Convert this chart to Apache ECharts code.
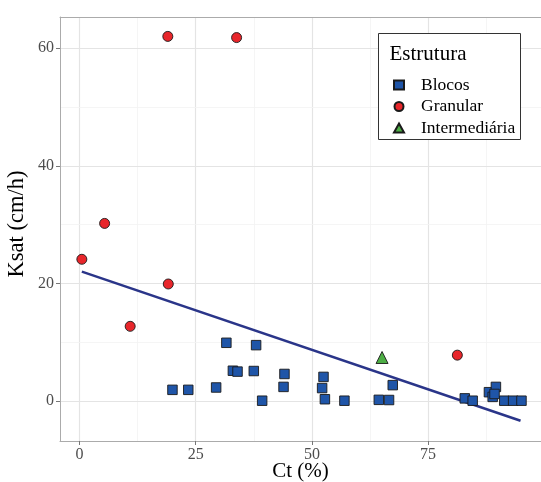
<!DOCTYPE html>
<html>
<head>
<meta charset="utf-8">
<script src="https://cdn.jsdelivr.net/npm/echarts@6/dist/echarts.min.js"></script>
<style>html,body{margin:0;padding:0;background:#fff}#c{width:541px;height:482px}</style>
</head>
<body>
<div id="c"></div>
<script>
const blocosX = [20.0, 23.4, 29.4, 31.6, 38.0, 33.0, 34.0, 37.5, 39.3, 44.1, 43.9, 52.5, 52.2, 52.8, 57.0, 64.4, 66.6, 67.4, 82.9, 84.6, 88.1, 89.6, 88.9, 89.3, 91.4, 93.3, 95.1];
const blocosY = [1.9, 1.9, 2.3, 9.9, 9.5, 5.15, 5.0, 5.1, 0.05, 4.6, 2.4, 4.1, 2.2, 0.3, 0.05, 0.2, 0.17, 2.7, 0.45, 0.05, 1.5, 2.4, 0.7, 1.2, 0.05, 0.05, 0.05];
const granularX = [19.0, 33.8, 0.5, 5.4, 19.1, 10.9, 81.3];
const granularY = [62.0, 61.8, 24.1, 30.2, 19.9, 12.7, 7.8];
const intermX = [65.1];
const intermY = [7.4];
const trendX = [0.5, 94.9];
const trendY = [22.0, -3.35];
const xTicks = [0, 25, 50, 75];
const yTicks = [0, 20, 40, 60];
const xMinor = [12.5, 37.5, 62.5, 87.5];
const yMinor = [10, 30, 50];
const seriesNames = ['Blocos', 'Granular', 'Intermediária'];
const legendTitle = 'Estrutura';
const xTitle = 'Ct (%)';
const yTitle = 'Ksat (cm/h)';

const FONT = 'Liberation Serif';
const zip = (a, b) => a.map((v, i) => [v, b[i]]);

const gridLines = [];
xTicks.forEach(v => gridLines.push({xAxis: v, lineStyle: {color: '#E4E4E4', width: 1.2, type: 'solid'}}));
xMinor.forEach(v => gridLines.push({xAxis: v, lineStyle: {color: '#F2F2F2', width: 0.8, type: 'solid'}}));
yTicks.forEach(v => gridLines.push({yAxis: v, lineStyle: {color: '#E4E4E4', width: 1.2, type: 'solid'}}));
yMinor.forEach(v => gridLines.push({yAxis: v, lineStyle: {color: '#F2F2F2', width: 0.8, type: 'solid'}}));

const chart = echarts.init(document.getElementById('c'), null, {renderer: 'canvas'});
chart.setOption({
  animation: false,
  backgroundColor: '#fff',
  grid: {left: 60, right: 0, top: 17, bottom: 41, containLabel: false, outerBoundsMode: 'none'},
  xAxis: [
    {
      type: 'value', min: -4.2, max: 99.3, position: 'bottom',
      splitLine: {show: false},
      axisLine: {show: true, onZero: false, lineStyle: {color: '#ABABAB', width: 1}},
      name: xTitle, nameLocation: 'middle', nameGap: 20, nameMoveOverlap: false,
      nameTextStyle: {fontFamily: FONT, fontSize: 21, color: '#000'},
      axisTick: {show: true, length: 4, customValues: xTicks, lineStyle: {color: '#777', width: 1}},
      axisLabel: {color: '#4D4D4D', fontFamily: FONT, fontSize: 16, margin: 6, customValues: xTicks}
    },
    {type: 'value', min: -4.2, max: 99.3, position: 'top', splitLine: {show: false},
     axisLine: {show: true, onZero: false, lineStyle: {color: '#ABABAB', width: 1}},
     axisTick: {show: false}, axisLabel: {show: false}}
  ],
  yAxis: {
    type: 'value', min: -6.8, max: 65.3,
    splitLine: {show: false},
    axisLine: {show: true, onZero: false, lineStyle: {color: '#ABABAB', width: 1}},
    name: yTitle, nameLocation: 'middle', nameGap: 31, nameRotate: 90, nameMoveOverlap: false,
    nameTextStyle: {fontFamily: FONT, fontSize: 22.5, color: '#000', padding: [0, 0, 0, 10]},
    axisTick: {show: true, length: 4, customValues: yTicks, lineStyle: {color: '#777', width: 1}},
    axisLabel: {color: '#4D4D4D', fontFamily: FONT, fontSize: 16, margin: 6, customValues: yTicks}
  },
  legend: {
    data: seriesNames,
    orient: 'vertical',
    left: 388, top: 71,
    itemWidth: 10, itemHeight: 9,
    itemGap: 3.5,
    z: 10,
    textStyle: {fontFamily: FONT, fontSize: 17.5, color: '#000', padding: [0, 0, 0, 12]}
  },
  graphic: [
    {type: 'rect', z: 8, shape: {x: 378.5, y: 33.5, width: 142, height: 106},
     style: {fill: '#fff', stroke: '#333', lineWidth: 1}},
    {type: 'text', z: 9, x: 389.5, y: 54,
     style: {text: legendTitle, font: '21px "Liberation Serif"', fill: '#000', verticalAlign: 'middle'}}
  ],
  series: [
    {type: 'scatter', name: '_grid', data: [], silent: true, z: 0,
     markLine: {silent: true, z: 0, symbol: 'none', label: {show: false}, animation: false, data: gridLines}},
    {type: 'line', name: 'trend', data: zip(trendX, trendY), showSymbol: false, symbol: 'none',
     lineStyle: {color: '#2A3589', width: 2.6}, z: 3, silent: true},
    {type: 'scatter', name: seriesNames[0], data: zip(blocosX, blocosY), symbol: 'rect', symbolSize: 9.5,
     itemStyle: {color: '#1F55A8', borderColor: '#1a1a1a', borderWidth: 0.9, opacity: 1}, z: 4},
    {type: 'scatter', name: seriesNames[1], data: zip(granularX, granularY), symbol: 'circle', symbolSize: 10,
     itemStyle: {color: '#E8262B', borderColor: '#1a1a1a', borderWidth: 0.9, opacity: 1}, z: 4},
    {type: 'scatter', name: seriesNames[2], data: zip(intermX, intermY), symbol: 'triangle', symbolSize: 12,
     itemStyle: {color: '#4DAE45', borderColor: '#1a1a1a', borderWidth: 0.9, opacity: 1}, z: 4}
  ]
});
</script>
</body>
</html>
